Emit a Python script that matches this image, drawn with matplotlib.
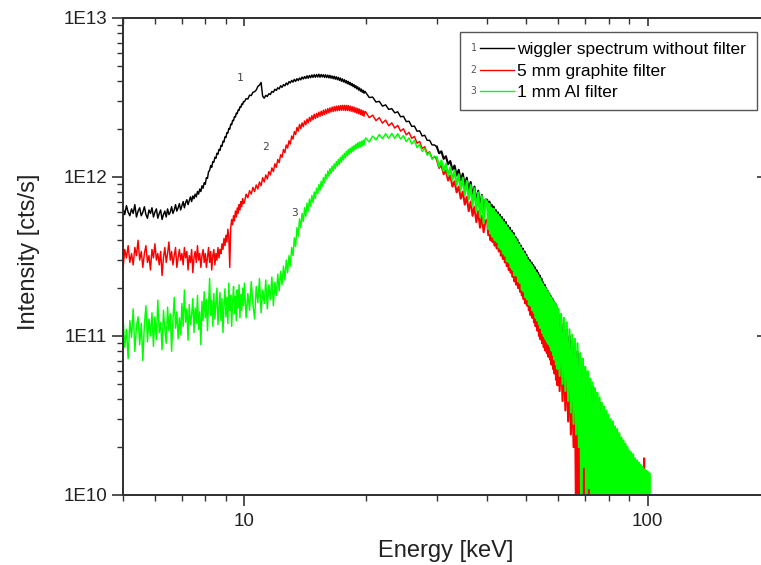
import matplotlib
matplotlib.use('Agg')
import matplotlib.pyplot as plt
import numpy as np
from matplotlib.legend_handler import HandlerBase
from matplotlib.lines import Line2D
from matplotlib.text import Text
from matplotlib.ticker import FuncFormatter, NullFormatter

plt.rcParams['font.family'] = ['Liberation Sans', 'DejaVu Sans']

# energy channels [keV]
energy = [
    5.00, 5.05, 5.10, 5.15, 5.20, 5.25, 5.30, 5.35, 5.40, 5.45,
    5.50, 5.55, 5.60, 5.65, 5.70, 5.75, 5.80, 5.85, 5.90, 5.95,
    6.00, 6.05, 6.10, 6.15, 6.20, 6.25, 6.30, 6.35, 6.40, 6.45,
    6.50, 6.55, 6.60, 6.65, 6.70, 6.75, 6.80, 6.85, 6.90, 6.95,
    7.00, 7.05, 7.10, 7.15, 7.20, 7.25, 7.30, 7.35, 7.40, 7.45,
    7.50, 7.55, 7.60, 7.65, 7.70, 7.75, 7.80, 7.85, 7.90, 7.95,
    8.00, 8.05, 8.10, 8.15, 8.20, 8.25, 8.30, 8.35, 8.40, 8.45,
    8.50, 8.55, 8.60, 8.65, 8.70, 8.75, 8.80, 8.85, 8.90, 8.95,
    9.00, 9.05, 9.10, 9.15, 9.20, 9.25, 9.30, 9.35, 9.40, 9.45,
    9.50, 9.55, 9.60, 9.65, 9.70, 9.75, 9.80, 9.85, 9.90, 9.95,
    10.0, 10.1, 10.2, 10.3, 10.4, 10.5, 10.6, 10.7, 10.8, 10.9,
    11.0, 11.1, 11.2, 11.3, 11.4, 11.5, 11.6, 11.7, 11.8, 11.9,
    12.0, 12.1, 12.2, 12.3, 12.4, 12.5, 12.6, 12.7, 12.8, 12.9,
    13.0, 13.1, 13.2, 13.3, 13.4, 13.5, 13.6, 13.7, 13.8, 13.9,
    14.0, 14.1, 14.2, 14.3, 14.4, 14.5, 14.6, 14.7, 14.8, 14.9,
    15.0, 15.1, 15.2, 15.3, 15.4, 15.5, 15.6, 15.7, 15.8, 15.9,
    16.0, 16.1, 16.2, 16.3, 16.4, 16.5, 16.6, 16.7, 16.8, 16.9,
    17.0, 17.1, 17.2, 17.3, 17.4, 17.5, 17.6, 17.7, 17.8, 17.9,
    18.0, 18.1, 18.2, 18.3, 18.4, 18.5, 18.6, 18.7, 18.8, 18.9,
    19.0, 19.1, 19.2, 19.3, 19.4, 19.5, 19.6, 19.7, 19.8, 19.9,
    20.0, 20.4, 20.8, 21.2, 21.6, 22.0, 22.4, 22.8, 23.2, 23.6,
    24.0, 24.4, 24.8, 25.2, 25.6, 26.0, 26.4, 26.8, 27.2, 27.6,
    28.0, 28.4, 28.8, 29.2, 29.6, 30.0, 30.4, 30.8, 31.2, 31.6,
    32.0, 32.4, 32.8, 33.2, 33.6, 34.0, 34.4, 34.8, 35.2, 35.6,
    36.0, 36.4, 36.8, 37.2, 37.6, 38.0, 38.4, 38.8, 39.2, 39.6,
    40.00, 40.25, 40.50, 40.75, 41.00, 41.25, 41.50, 41.75, 42.00, 42.25,
    42.50, 42.75, 43.00, 43.25, 43.50, 43.75, 44.00, 44.25, 44.50, 44.75,
    45.00, 45.25, 45.50, 45.75, 46.00, 46.25, 46.50, 46.75, 47.00, 47.25,
    47.50, 47.75, 48.00, 48.25, 48.50, 48.75, 49.00, 49.25, 49.50, 49.75,
    50.00, 50.25, 50.50, 50.75, 51.00, 51.25, 51.50, 51.75, 52.00, 52.25,
    52.50, 52.75, 53.00, 53.25, 53.50, 53.75, 54.00, 54.25, 54.50, 54.75,
    55.00, 55.25, 55.50, 55.75, 56.00, 56.25, 56.50, 56.75, 57.00, 57.25,
    57.50, 57.75, 58.00, 58.25, 58.50, 58.75, 59.00, 59.25, 59.50, 59.75,
    60.0, 60.5, 61.0, 61.5, 62.0, 62.5, 63.0, 63.5, 64.0, 64.5,
    65.0, 65.5, 66.0, 66.5, 67.0, 67.5, 68.0, 68.5, 69.0, 69.5,
    70.0, 70.5, 71.0, 71.5, 72.0, 72.5, 73.0, 73.5, 74.0, 74.5,
    75.0, 75.5, 76.0, 76.5, 77.0, 77.5, 78.0, 78.5, 79.0, 79.5,
    80.0, 80.5, 81.0, 81.5, 82.0, 82.5, 83.0, 83.5, 84.0, 84.5,
    85.0, 85.5, 86.0, 86.5, 87.0, 87.5, 88.0, 88.5, 89.0, 89.5,
    90.0, 90.5, 91.0, 91.5, 92.0, 92.5, 93.0, 93.5, 94.0, 94.5,
    95.0, 95.5, 96.0, 96.5, 97.0, 97.5, 98.0, 98.5, 99.0, 99.5,
    100.0, 100.5, 101.0, 101.5,
]

# intensities in units of 1E10 cts/s (values < 1 = empty channels)
no_filter = [
    64, 58, 66, 60, 57, 63, 59, 67, 56, 61,
    64, 57, 60, 65, 58, 55, 62, 59, 64, 56,
    60, 63, 55, 59, 62, 54, 58, 61, 56, 63,
    58, 60, 65, 59, 62, 67, 61, 64, 68, 62,
    66, 70, 64, 69, 72, 67, 71, 75, 70, 76,
    73, 78, 75, 81, 78, 84, 81, 88, 85, 92,
    90, 99, 98, 108, 110, 118, 115, 125, 124, 133,
    131, 141, 139, 149, 147, 158, 156, 168, 166, 179,
    177, 190, 189, 202, 200, 215, 213, 227, 226, 240,
    238, 252, 250, 264, 262, 276, 274, 288, 285, 298,
    297, 311, 309, 327, 325, 341, 344, 352, 371, 378,
    393, 322, 313, 326, 321, 334, 330, 345, 341, 356,
    350, 364, 358, 375, 366, 381, 374, 390, 380, 398,
    390, 405, 395, 411, 399, 415, 404, 419, 408, 425,
    413, 428, 416, 433, 418, 435, 421, 438, 423, 440,
    424, 441, 425, 443, 424, 441, 426, 440, 423, 439,
    422, 437, 420, 436, 418, 432, 415, 430, 412, 427,
    409, 423, 405, 419, 400, 414, 396, 409, 391, 404,
    386, 399, 381, 393, 376, 387, 370, 381, 364, 375,
    358, 369, 352, 363, 346, 357, 341, 351, 336, 346,
    340, 316, 318, 296, 299, 279, 284, 266, 269, 253,
    257, 239, 241, 223, 224, 208, 209, 194, 195, 181,
    183, 170, 170, 159, 159, 155, 141, 145, 130, 135,
    120, 126, 111, 118, 102, 111, 95, 105, 88, 99,
    81, 93, 75, 87, 69, 82, 64, 77, 60, 72,
    72, 57, 70, 54, 67, 52, 65, 50, 62, 48,
    60, 46, 58, 44, 56, 42, 54, 40.5, 52, 38.5,
    49.5, 37, 48, 35.5, 46, 34, 44.5, 32, 42, 31,
    40.5, 29.5, 38.5, 28, 37, 26.5, 35.5, 25.5, 34, 24,
    32.5, 23, 31, 22, 30, 21, 29, 20, 28, 19.4,
    27, 18.5, 26, 17.7, 25, 16.8, 24, 16, 23, 15.3,
    21.8, 14.6, 21, 14, 20, 13.5, 19.2, 13, 18.5, 12.5,
    17.8, 12, 17.2, 11.4, 16.5, 10.8, 16, 10.2, 15.3, 9.7,
    13.8, 8, 12.8, 7.2, 11.8, 6.4, 11, 5.6, 10, 5,
    9.2, 4.4, 8.6, 3.8, 8, 3.3, 7.2, 0.6, 6.6, 2.6,
    6.0, 2.3, 5.6, 0.5, 5.1, 1.9, 4.8, 1.7, 4.4, 0.5,
    4.1, 1.4, 3.8, 1.3, 3.5, 0.4, 3.3, 1.1, 3.1, 1.0,
    2.9, 0.5, 2.8, 0.9, 2.6, 0.4, 2.5, 0.8, 2.4, 0.4,
    2.25, 0.8, 2.1, 0.4, 2.0, 0.7, 1.9, 0.4, 1.8, 0.4,
    1.75, 0.7, 1.7, 0.4, 1.65, 0.4, 1.6, 0.4, 1.55, 0.4,
    1.5, 0.4, 1.45, 0.4, 1.4, 0.4, 1.35,
]

graphite = [
    26, 35, 31, 37, 29, 33, 28, 36, 32, 40,
    30, 34, 27, 33, 37, 29, 32, 26, 35, 31,
    38, 30, 33, 28, 34, 24, 31, 36, 29, 33,
    39, 30, 34, 28, 32, 36, 27, 31, 35, 30,
    33, 28, 36, 31, 34, 26, 32, 29, 35, 25,
    31, 34, 29, 37, 30, 33, 27, 32, 35, 29,
    33, 27, 31, 36, 29, 34, 26, 32, 35, 28,
    33, 30, 36, 31, 35, 33, 38, 35, 41, 37,
    43, 39, 47, 42, 27, 48, 54, 50, 57, 53,
    61, 56, 64, 59, 67, 62, 70, 65, 73, 68,
    69, 78, 74, 82, 78, 86, 81, 89, 84, 93,
    88, 99, 93, 103, 97, 108, 103, 114, 108, 121,
    115, 129, 123, 138, 133, 149, 142, 159, 152, 169,
    161, 181, 173, 193, 185, 205, 194, 214, 201, 219,
    207, 225, 213, 231, 219, 237, 224, 243, 229, 248,
    233, 251, 237, 256, 241, 259, 244, 263, 247, 266,
    250, 269, 253, 272, 256, 275, 258, 277, 260, 279,
    261, 280, 262, 281, 263, 282, 263, 282, 262, 282,
    262, 281, 261, 279, 259, 277, 257, 275, 255, 272,
    252, 270, 250, 267, 247, 264, 244, 261, 241, 258,
    256, 236, 245, 226, 236, 218, 228, 210, 219, 203,
    211, 194, 201, 184, 191, 175, 180, 163, 167, 151,
    155, 141, 144, 131, 134, 129, 114, 119, 104, 110,
    95, 102, 87, 94, 80, 87, 73, 81, 67, 75,
    61, 70, 57, 65, 52, 61, 48, 57, 45, 53,
    54, 43, 53, 40, 51, 39, 49, 37, 47, 35.5,
    46, 34, 44, 32, 42.5, 30.5, 41, 29, 39.5, 27.5,
    38, 26, 36.5, 25, 35, 23.5, 33.5, 22, 32, 21,
    30.5, 20, 29, 19, 28, 18, 26.5, 17, 25.5, 16,
    24.5, 15.5, 23, 14.5, 22, 13.5, 21, 13, 20, 12.2,
    19.4, 11.5, 18.5, 10.8, 17.7, 10, 16.8, 9.5, 16, 9,
    15.2, 8.5, 14.6, 8.1, 14, 7.8, 13.5, 7.4, 13, 7.1,
    12.5, 6.6, 12, 6.2, 11.4, 5.8, 10.8, 5.3, 10.2, 4.9,
    9.3, 4.5, 8.5, 3.9, 7.7, 3.4, 6.9, 2.9, 6.2, 2.4,
    5.6, 2.0, 5.0, 0.5, 4.5, 0.4, 4.0, 1.0, 3.6, 0.4,
    3.3, 0.4, 3.0, 0.4, 2.7, 0.4, 2.5, 0.4, 2.3, 0.4,
    2.1, 0.4, 2.0, 0.4, 1.9, 0.4, 1.7, 0.4, 1.6, 0.4,
    1.5, 0.4, 1.6, 0.4, 0.4, 1.4, 0.4, 0.4, 1.5, 0.4,
    0.4, 1.3, 0.4, 0.4, 1.6, 0.4, 0.4, 0.4, 1.3, 0.4,
    0.4, 0.4, 1.5, 0.4, 0.4, 0.4, 0.4, 1.3, 0.4, 0.4,
    0.4, 0.4, 0.4, 0.4, 0.4, 0.4, 1.7, 0.4,
]

aluminium = [
    13.5, 8.5, 11.0, 7.2, 12.5, 9.8, 14.8, 8.0, 11.5, 13.2,
    8.8, 12.0, 7.0, 11.8, 15.5, 9.2, 12.8, 10.0, 14.0, 8.6,
    13.2, 9.5, 16.8, 10.5, 12.2, 8.2, 14.5, 11.0, 9.0, 15.2,
    10.8, 13.8, 8.0, 12.5, 17.5, 11.2, 14.2, 9.6, 13.0, 10.2,
    16.0, 11.5, 19.5, 12.2, 14.8, 9.4, 15.8, 11.8, 13.5, 17.2,
    10.5, 15.0, 12.0, 18.0, 11.0, 14.2, 8.8, 16.5, 12.5, 19.0,
    13.0, 17.0, 10.8, 15.5, 23.0, 13.5, 16.8, 11.5, 18.5, 12.8,
    16.2, 20.0, 11.8, 15.0, 18.8, 12.5, 17.2, 10.5, 15.8, 19.8,
    13.2, 17.5, 12.0, 21.5, 14.5, 18.0, 11.5, 16.5, 20.5, 13.8,
    17.8, 12.5, 19.5, 15.0, 21.0, 13.0, 18.2, 14.5, 20.0, 15.5,
    21.5, 13.0, 18.5, 14.5, 22.0, 15.8, 12.8, 20.5, 16.2, 23.0,
    14.0, 19.5, 16.0, 22.5, 14.8, 21.0, 17.0, 23.5, 15.5, 21.8,
    18.0, 24.5, 19.2, 25.5, 21.0, 27.5, 22.5, 30.0, 25.0, 32.0,
    27.5, 36.0, 32.0, 41.5, 36.5, 48.0, 42.5, 54.5, 48.0, 59.0,
    52.5, 64.0, 56.5, 68.5, 61.0, 72.5, 65.5, 76.5, 69.0, 80.5,
    73.5, 85.0, 78.5, 89.5, 82.5, 94.0, 87.0, 99.0, 92.0, 104,
    97, 109, 101, 113, 105, 117, 109, 121, 113, 125,
    117, 129, 120, 133, 124, 137, 128, 141, 132, 145,
    136, 149, 139, 152, 142, 155, 145, 158, 148, 161,
    151, 164, 153, 166, 155, 168, 157, 170, 159, 172,
    176, 166, 181, 171, 185, 174, 187, 175, 188, 175,
    187, 173, 182, 167, 176, 161, 170, 153, 160, 145,
    151, 137, 143, 129, 135, 133, 116, 127, 109, 121,
    102, 115, 96, 110, 89, 104, 83, 99, 77, 94.5,
    72, 89, 66, 85, 61, 80, 56, 76, 51, 72,
    70, 47, 68, 44, 64, 42, 63, 40, 60, 39,
    58, 36, 56, 35, 54, 33, 52, 32, 50, 29.5,
    48, 29, 46, 27, 44.5, 26, 43, 24, 41, 24,
    39, 22, 37.5, 21.5, 36, 19.5, 34.5, 19, 33, 17.5,
    31.5, 17, 30, 15.8, 29, 15.5, 28, 14.5, 27, 14,
    26, 13, 25, 12.5, 24, 11.8, 23, 11.2, 22, 10.5,
    21.2, 10, 20.4, 9.6, 19.7, 9.2, 19, 8.9, 18.3, 8.6,
    17.6, 8.1, 17.0, 7.6, 16.4, 7.1, 15.9, 6.6, 15.3, 6.2,
    14.8, 5.6, 13.8, 5.0, 13, 4.5, 12.2, 3.9, 11, 3.3,
    10.2, 2.8, 9.6, 2.4, 9.0, 2.0, 7.8, 0.5, 7.2, 1.5,
    6.4, 0.5, 6.0, 1.1, 5.4, 0.5, 5.1, 0.5, 4.7, 0.9,
    4.4, 0.5, 4.1, 0.5, 3.8, 0.7, 3.6, 0.5, 3.4, 0.5,
    3.2, 0.5, 3.0, 0.5, 2.9, 0.5, 2.7, 0.5, 2.6, 0.5,
    2.45, 0.5, 2.3, 0.5, 2.2, 0.5, 2.1, 0.5, 2.0, 0.5,
    1.9, 0.5, 1.85, 0.5, 1.8, 0.5, 1.7, 0.5, 1.65, 0.5,
    1.6, 0.5, 1.55, 0.5, 1.5, 0.5, 1.45, 0.5, 1.42, 0.5,
    1.4, 0.5, 1.37, 0.5,
]

labels = ['wiggler spectrum without filter', '5 mm graphite filter', '1 mm Al filter']
curve_numbers = ['1', '2', '3']
colors = ['#000000', '#ff0000', '#00ff00']


class HandlerNumLine(HandlerBase):
    # legend entry: small curve number followed by a line sample
    def __init__(self, num):
        super().__init__()
        self.num = num

    def create_artists(self, legend, orig_handle, xdescent, ydescent, width, height, fontsize, trans):
        y = height / 2 - ydescent
        line = Line2D([-xdescent + 0.22 * width, -xdescent + width], [y, y],
                      color=orig_handle.get_color(), lw=1.0, transform=trans)
        num = Text(-xdescent, y, self.num, fontsize=7, color='#555555',
                   family='DejaVu Sans Mono', ha='left', va='center', transform=trans)
        return [line, num]


fig = plt.figure(figsize=(7.61, 5.65), dpi=100)
ax = fig.add_axes([0.1616, 0.1239, 0.849, 0.8443])

# the noisy high-energy tail is drawn a bit thicker so the channels merge into a band
k = energy.index(30.0)
lines = []
for vals, color, lab in zip([no_filter, graphite, aluminium], colors, labels):
    e = np.array(energy[:len(vals)])
    inten = np.array(vals) * 1e10
    ln, = ax.plot(e[:k + 1], inten[:k + 1], color=color, lw=1.05, label=lab)
    ax.plot(e[k:], inten[k:], color=color, lw=1.5)
    lines.append(ln)

ax.set_xscale('log')
ax.set_yscale('log')
ax.set_xlim(5, 200)
ax.set_ylim(1e10, 1e13)

ax.xaxis.set_major_formatter(FuncFormatter(lambda v, p: '%g' % v))
ax.xaxis.set_minor_formatter(NullFormatter())
ax.yaxis.set_major_formatter(FuncFormatter(lambda v, p: '1E%d' % round(np.log10(v))))
ax.yaxis.set_minor_formatter(NullFormatter())
ax.tick_params(which='major', length=8, width=1.2, direction='out', labelsize=13.5,
               color='#333333', labelcolor='#222222')
ax.tick_params(which='minor', length=4, width=1.0, direction='out', color='#333333')
ax.tick_params(axis='x', which='major', pad=5)
for sp in ax.spines.values():
    sp.set_color('#333333')
    sp.set_linewidth(1.3)

# top and right ticks point inwards
axt = ax.twiny()
axt.set_xscale('log')
axt.set_xlim(5, 200)
axt.tick_params(axis='x', which='major', direction='in', length=6, width=1.2, color='#333333', labeltop=False)
axt.tick_params(axis='x', which='minor', direction='in', length=4, width=1.0, color='#333333')
axt.xaxis.set_minor_formatter(NullFormatter())
axr = ax.twinx()
axr.set_yscale('log')
axr.set_ylim(1e10, 1e13)
axr.tick_params(axis='y', which='major', direction='in', length=9, width=1.2, color='#333333', labelright=False)
axr.tick_params(axis='y', which='minor', direction='in', length=4, width=1.0, color='#333333')
axr.yaxis.set_minor_formatter(NullFormatter())
for a in (axt, axr):
    for sp in a.spines.values():
        sp.set_color('#333333')
        sp.set_linewidth(1.3)

# curve numbers next to the spectra
for num, xe, yi in zip(curve_numbers, [9.75, 11.25, 13.3], [4.2e12, 1.55e12, 5.9e11]):
    ax.text(xe, yi, num, fontsize=8, color='#444444', family='DejaVu Sans Mono',
            ha='center', va='center')

ax.set_xlabel('Energy [keV]', fontsize=17, color='#222222')
ax.set_ylabel('Intensity [cts/s]', fontsize=17, color='#222222')
ax.xaxis.set_label_coords(0.5, -0.095)
ax.yaxis.set_label_coords(-0.128, 0.509)

handler_map = {ln: HandlerNumLine(num) for ln, num in zip(lines, curve_numbers)}
leg = ax.legend(handles=lines, labels=labels, loc='upper right', bbox_to_anchor=(0.981, 0.971),
                borderaxespad=0, fontsize=12.5, frameon=True, fancybox=False, edgecolor='#555555',
                framealpha=1, handlelength=2.5, handletextpad=0.2, borderpad=0.6,
                labelspacing=0.35, handler_map=handler_map)
leg.get_frame().set_linewidth(1.0)

fig.savefig('out.png', dpi=100)
